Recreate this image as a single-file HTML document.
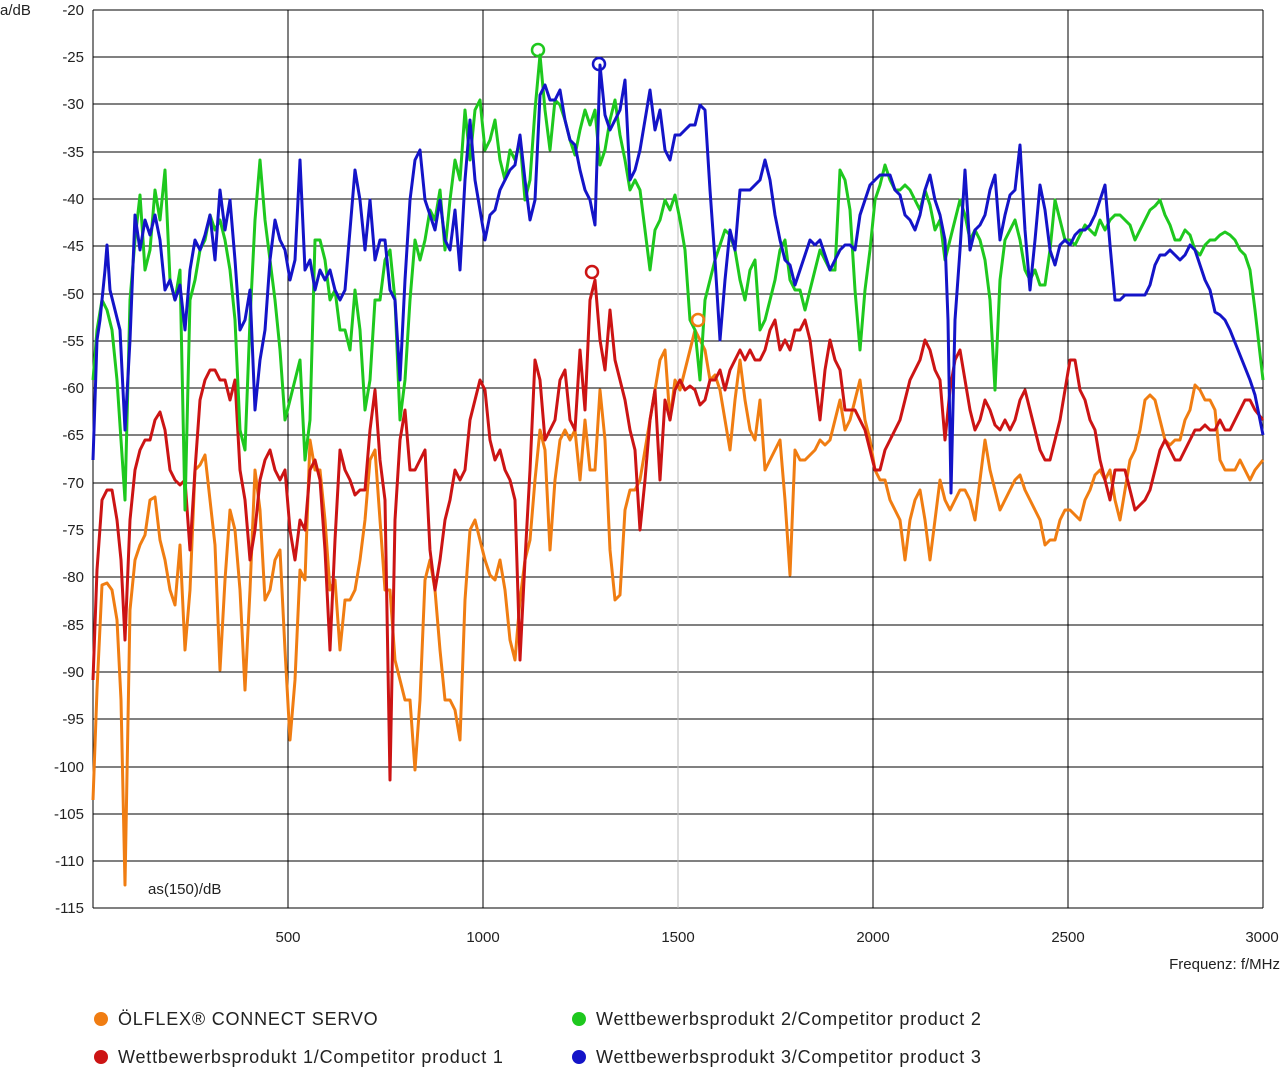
<!DOCTYPE html>
<html><head><meta charset="utf-8"><style>
body{margin:0;background:#fff;font-family:"Liberation Sans",sans-serif}
svg text{font-family:"Liberation Sans",sans-serif;font-size:15px;fill:#222}
svg text.lg{font-size:18px;letter-spacing:0.8px}
</style></head><body>
<svg width="1280" height="1068" viewBox="0 0 1280 1068">
<g stroke="#000" stroke-width="1">
<line x1="93" y1="10" x2="1263" y2="10"/><line x1="93" y1="57" x2="1263" y2="57"/><line x1="93" y1="104" x2="1263" y2="104"/><line x1="93" y1="152" x2="1263" y2="152"/><line x1="93" y1="199" x2="1263" y2="199"/><line x1="93" y1="246" x2="1263" y2="246"/><line x1="93" y1="294" x2="1263" y2="294"/><line x1="93" y1="341" x2="1263" y2="341"/><line x1="93" y1="388" x2="1263" y2="388"/><line x1="93" y1="435" x2="1263" y2="435"/><line x1="93" y1="483" x2="1263" y2="483"/><line x1="93" y1="530" x2="1263" y2="530"/><line x1="93" y1="577" x2="1263" y2="577"/><line x1="93" y1="625" x2="1263" y2="625"/><line x1="93" y1="672" x2="1263" y2="672"/><line x1="93" y1="719" x2="1263" y2="719"/><line x1="93" y1="767" x2="1263" y2="767"/><line x1="93" y1="814" x2="1263" y2="814"/><line x1="93" y1="861" x2="1263" y2="861"/><line x1="93" y1="908" x2="1263" y2="908"/>
<line x1="93" y1="10" x2="93" y2="908"/><line x1="288" y1="10" x2="288" y2="908"/><line x1="483" y1="10" x2="483" y2="908"/><line x1="873" y1="10" x2="873" y2="908"/><line x1="1068" y1="10" x2="1068" y2="908"/><line x1="1263" y1="10" x2="1263" y2="908"/>
</g>
<line x1="678" y1="10" x2="678" y2="908" stroke="#bbb"/>
<g text-anchor="end">
<text x="84" y="15">-20</text><text x="84" y="62">-25</text><text x="84" y="109">-30</text><text x="84" y="157">-35</text><text x="84" y="204">-40</text><text x="84" y="251">-45</text><text x="84" y="299">-50</text><text x="84" y="346">-55</text><text x="84" y="393">-60</text><text x="84" y="440">-65</text><text x="84" y="488">-70</text><text x="84" y="535">-75</text><text x="84" y="582">-80</text><text x="84" y="630">-85</text><text x="84" y="677">-90</text><text x="84" y="724">-95</text><text x="84" y="772">-100</text><text x="84" y="819">-105</text><text x="84" y="866">-110</text><text x="84" y="913">-115</text>
</g>
<text x="0" y="15">a/dB</text>
<text x="148" y="894">as(150)/dB</text>
<g text-anchor="middle"><text x="288" y="942">500</text><text x="483" y="942">1000</text><text x="678" y="942">1500</text><text x="873" y="942">2000</text><text x="1068" y="942">2500</text><text x="1262" y="942">3000</text></g>
<text x="1280" y="969" text-anchor="end">Frequenz: f/MHz</text>
<g fill="none" stroke-width="3" stroke-linejoin="round">
<polyline stroke="#f07d12" points="93,800 97,690 102,585 107,583 112,590 117,620 121,700 125,885 130,610 135,560 140,545 145,535 150,500 155,497 160,540 165,560 170,590 175,605 180,545 185,650 190,590 195,470 200,465 205,455 210,500 215,545 220,670 225,580 230,510 235,530 240,590 245,690 250,590 255,470 260,510 265,600 270,590 275,560 280,550 285,650 290,740 295,680 300,570 305,580 310,440 315,470 320,470 325,520 330,590 335,580 340,650 345,600 350,600 355,590 360,560 365,520 370,460 375,450 380,520 385,590 390,590 395,660 400,680 405,700 410,700 415,770 420,700 425,580 430,560 435,590 440,650 445,700 450,700 455,710 460,740 465,600 470,530 475,520 480,540 485,560 490,575 495,580 500,560 505,590 510,640 515,660 520,600 525,560 530,540 535,480 540,430 545,450 550,550 555,480 560,440 565,430 570,440 575,430 580,480 585,420 590,470 595,470 600,390 605,440 610,550 615,600 620,595 625,510 630,490 635,490 640,480 645,450 650,420 655,390 660,360 665,350 670,420 675,380 680,390 685,370 690,350 695,330 700,340 705,350 710,380 715,375 720,390 725,420 730,450 735,400 740,360 745,400 750,430 755,440 760,400 765,470 770,460 775,450 780,440 785,500 790,575 795,450 800,460 805,460 810,455 815,450 820,440 825,445 830,440 835,420 840,400 845,430 850,420 855,400 860,380 865,420 870,440 875,470 880,480 885,480 890,500 895,510 900,520 905,560 910,520 915,500 920,490 925,520 930,560 935,520 940,480 945,500 950,510 955,500 960,490 965,490 970,500 975,520 980,480 985,440 990,470 995,490 1000,510 1005,500 1010,490 1015,480 1020,475 1025,490 1030,500 1035,510 1040,520 1045,545 1050,540 1055,540 1060,520 1065,510 1070,510 1075,515 1080,520 1085,500 1090,490 1095,475 1100,470 1105,480 1110,470 1115,500 1120,520 1125,490 1130,460 1135,450 1140,430 1145,400 1150,395 1155,400 1160,420 1165,440 1170,445 1175,440 1180,440 1185,420 1190,410 1195,385 1200,390 1205,400 1210,400 1215,410 1220,460 1225,470 1230,470 1235,470 1240,460 1245,470 1250,480 1255,470 1263,460"/>
<polyline stroke="#cc1414" points="93,680 97,570 102,500 107,490 112,490 117,520 121,560 125,640 130,520 135,470 140,450 145,440 150,440 155,420 160,412 165,430 170,470 175,480 180,485 185,480 190,550 195,470 200,400 205,380 210,370 215,370 220,380 225,380 230,400 235,380 240,470 245,500 250,560 255,530 260,480 265,460 270,450 275,470 280,480 285,470 290,530 295,560 300,520 305,530 310,470 315,460 320,480 325,550 330,650 335,540 340,450 345,470 350,480 355,495 360,490 365,490 370,430 375,390 380,460 385,500 390,780 395,520 400,440 405,410 410,470 415,470 420,460 425,450 430,550 435,590 440,560 445,520 450,500 455,470 460,480 465,470 470,420 475,400 480,380 485,390 490,440 495,460 500,450 505,470 510,480 515,500 520,660 525,560 530,470 535,360 540,380 545,440 550,430 555,420 560,380 565,370 570,420 575,430 580,350 585,410 590,300 595,280 600,340 605,370 610,310 615,360 620,380 625,400 630,430 635,450 640,530 645,480 650,420 655,390 660,480 665,400 670,420 675,390 680,380 685,390 690,386 695,390 700,405 705,400 710,380 715,380 720,370 725,390 730,370 735,360 740,350 745,360 750,350 755,360 760,360 765,350 770,330 775,320 780,350 785,340 790,350 795,330 800,330 805,320 810,340 815,380 820,420 825,370 830,340 835,360 840,370 845,410 850,410 855,410 860,420 865,430 870,450 875,470 880,470 885,450 890,440 895,430 900,420 905,400 910,380 915,370 920,360 925,340 930,350 935,370 940,380 945,440 950,390 955,360 960,350 965,380 970,410 975,430 980,420 985,400 990,410 995,425 1000,430 1005,420 1010,430 1015,420 1020,400 1025,390 1030,410 1035,430 1040,450 1045,460 1050,460 1055,440 1060,420 1065,390 1070,360 1075,360 1080,390 1085,400 1090,420 1095,430 1100,460 1105,480 1110,500 1115,470 1120,470 1125,470 1130,490 1135,510 1140,505 1145,500 1150,490 1155,470 1160,450 1165,440 1170,450 1175,460 1180,460 1185,450 1190,440 1195,430 1200,430 1205,425 1210,430 1215,430 1220,420 1225,430 1230,430 1235,420 1240,410 1245,400 1250,400 1255,410 1263,420"/>
<polyline stroke="#1ec81e" points="93,380 97,330 102,300 107,310 112,330 117,380 121,440 125,500 130,300 135,240 140,195 145,270 150,250 155,190 160,220 165,170 170,280 175,300 180,270 185,510 190,300 195,280 200,250 205,240 210,215 215,230 220,220 225,240 230,270 235,320 240,430 245,450 250,320 255,220 260,160 265,220 270,260 275,300 280,350 285,420 290,400 295,380 300,360 305,460 310,420 315,240 320,240 325,260 330,300 335,290 340,330 345,330 350,350 355,290 360,330 365,410 370,380 375,300 380,300 385,260 390,250 395,300 400,420 405,380 410,300 415,240 420,260 425,240 430,210 435,220 440,190 445,250 450,200 455,160 460,180 465,110 470,160 475,110 480,100 485,150 490,140 495,120 500,160 505,180 510,150 515,160 520,140 525,200 530,180 535,110 540,55 545,110 550,150 555,100 560,105 565,120 570,140 575,155 580,130 585,110 590,125 595,110 600,165 605,150 610,120 615,100 620,135 625,160 630,190 635,180 640,190 645,230 650,270 655,230 660,220 665,200 670,210 675,195 680,220 685,250 690,320 695,330 700,380 705,300 710,280 715,260 720,245 725,230 730,235 735,250 740,280 745,300 750,270 755,260 760,330 765,320 770,300 775,280 780,250 785,240 790,280 795,290 800,290 805,310 810,290 815,270 820,250 825,260 830,270 835,270 840,170 845,180 850,210 855,290 860,350 865,290 870,250 875,200 880,185 885,165 890,180 895,190 900,190 905,185 910,190 915,200 920,210 925,190 930,205 935,230 940,220 945,260 950,240 955,220 960,200 965,215 970,240 975,230 980,240 985,260 990,300 995,390 1000,280 1005,240 1010,230 1015,220 1020,240 1025,270 1030,280 1035,270 1040,285 1045,285 1050,250 1055,200 1060,220 1065,240 1070,240 1075,245 1080,235 1085,225 1090,230 1095,235 1100,220 1105,230 1110,220 1115,215 1120,215 1125,220 1130,225 1135,240 1140,230 1145,220 1150,210 1155,206 1160,200 1165,215 1170,225 1175,240 1180,240 1185,230 1190,235 1195,250 1200,255 1205,245 1210,240 1215,240 1220,235 1225,232 1230,235 1235,240 1240,250 1245,255 1250,270 1255,310 1263,380"/>
<polyline stroke="#1414c8" points="93,460 97,340 100,320 105,270 107,245 110,290 115,310 120,330 125,430 130,340 135,215 140,250 145,220 150,235 155,215 160,240 165,290 170,280 175,300 180,285 185,330 190,270 195,240 200,250 205,235 210,215 215,260 220,190 225,230 230,200 235,260 240,330 245,320 250,290 255,410 260,360 265,330 270,260 275,220 280,240 285,250 290,280 295,260 300,160 305,270 310,260 315,290 320,270 325,280 330,270 335,290 340,300 345,290 350,230 355,170 360,200 365,250 370,200 375,260 380,240 385,240 390,290 395,300 400,380 405,280 410,200 415,160 420,150 425,200 430,215 435,230 440,200 445,240 450,250 455,210 460,270 465,180 470,120 475,180 480,210 485,240 490,215 495,210 500,190 505,180 510,170 515,165 520,135 525,180 530,220 535,200 540,95 545,85 550,100 555,100 560,90 565,120 570,140 575,145 580,170 585,190 590,200 595,225 600,65 605,115 610,130 615,120 620,110 625,80 630,180 635,170 640,150 645,120 650,90 655,130 660,110 665,150 670,160 675,135 680,135 685,130 690,125 695,125 700,105 705,110 710,190 715,260 720,340 725,280 730,230 735,250 740,190 745,190 750,190 755,185 760,180 765,160 770,180 775,215 780,240 785,260 790,265 795,285 800,270 805,255 810,240 815,245 820,240 825,255 830,270 835,260 840,250 845,245 850,245 855,250 860,215 865,200 870,185 875,180 880,175 885,175 890,175 895,190 900,195 905,215 910,220 915,230 920,215 925,190 930,175 935,200 940,215 945,240 948,320 951,493 955,320 960,250 965,170 970,250 975,230 980,225 985,215 990,190 995,175 1000,240 1005,215 1010,195 1015,190 1020,145 1025,230 1030,290 1035,240 1040,185 1045,210 1050,250 1055,265 1060,245 1065,240 1070,245 1075,235 1080,230 1085,230 1090,225 1095,215 1100,200 1105,185 1110,245 1115,300 1120,300 1125,295 1130,295 1135,295 1140,295 1145,295 1150,285 1155,265 1160,255 1165,255 1170,250 1175,255 1180,260 1185,255 1190,245 1195,250 1200,265 1205,280 1210,290 1215,312 1220,315 1225,320 1230,330 1240,355 1250,380 1255,395 1263,435"/>
</g>
<g fill="none" stroke-width="2.5">
<circle cx="538" cy="50" r="6" stroke="#1ec81e"/>
<circle cx="599" cy="64" r="6" stroke="#1414c8"/>
<circle cx="592" cy="272" r="6" stroke="#cc1414"/>
<circle cx="698" cy="320" r="6" stroke="#f07d12"/>
</g>
<circle cx="101" cy="1019" r="7" fill="#f07d12"/><text class="lg" x="118" y="1025">ÖLFLEX® CONNECT SERVO</text>
<circle cx="101" cy="1057" r="7" fill="#cc1414"/><text class="lg" x="118" y="1063">Wettbewerbsprodukt 1/Competitor product 1</text>
<circle cx="579" cy="1019" r="7" fill="#1ec81e"/><text class="lg" x="596" y="1025">Wettbewerbsprodukt 2/Competitor product 2</text>
<circle cx="579" cy="1057" r="7" fill="#1414c8"/><text class="lg" x="596" y="1063">Wettbewerbsprodukt 3/Competitor product 3</text>
</svg>
</body></html>
